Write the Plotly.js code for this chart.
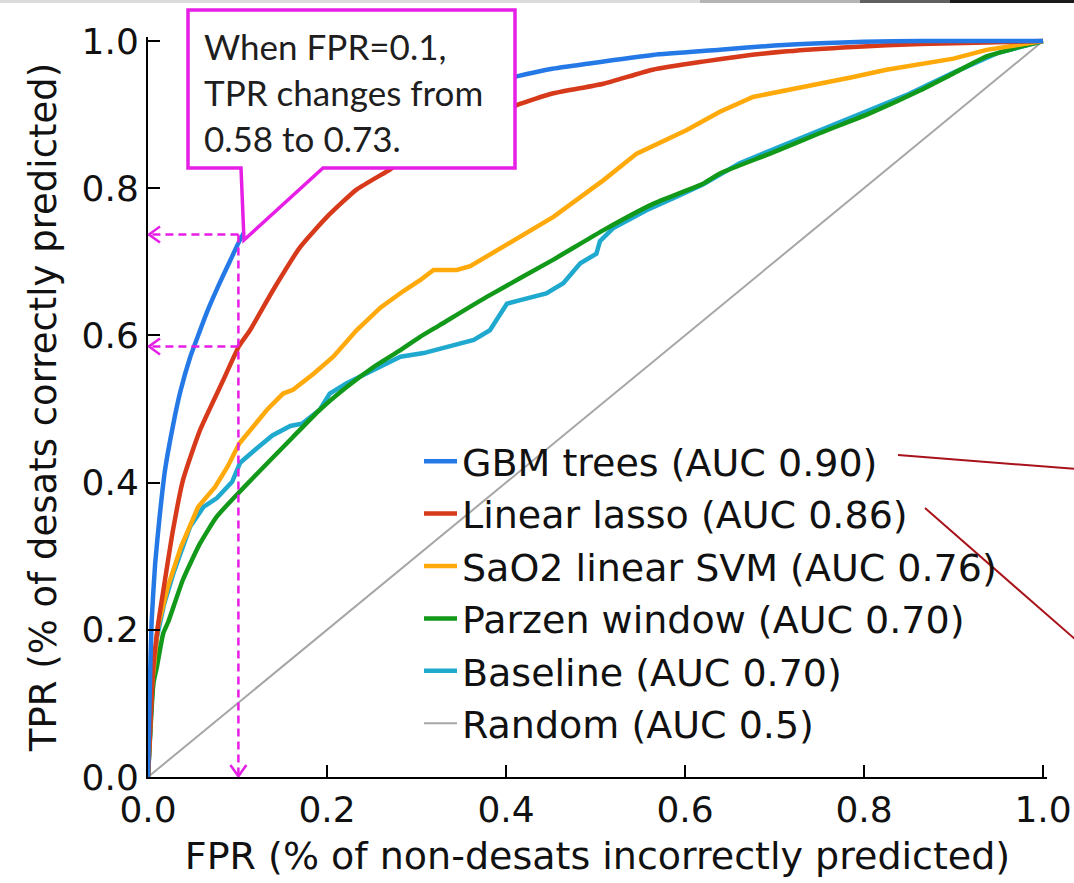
<!DOCTYPE html>
<html><head><meta charset="utf-8">
<script src="https://cdn.plot.ly/plotly-3.0.1.min.js"></script>
<style>html,body{margin:0;padding:0;background:#fff}#chart{width:1074px;height:883px}</style>
</head><body><div id="chart"></div>
<script>
// ---- data ----
const gbmFPR = [0,0.002,0.004,0.008,0.013,0.019,0.028,0.036,0.047,0.057,0.066,0.08,0.092,0.102,0.12,0.15,0.2,0.25,0.3,0.35,0.412,0.45,0.49,0.564,0.639,0.7,0.751,0.8,0.863,1.0];
const gbmTPR = [0,0.12,0.21,0.29,0.354,0.417,0.478,0.523,0.57,0.603,0.632,0.671,0.702,0.728,0.765,0.805,0.855,0.89,0.915,0.933,0.952,0.962,0.969,0.981,0.988,0.994,0.997,0.999,1.0,1.0];

const lassoFPR = [0,0.003,0.006,0.0115,0.019,0.028,0.039,0.058,0.084,0.102,0.114,0.14,0.17,0.2,0.233,0.27,0.3,0.35,0.412,0.453,0.509,0.564,0.62,0.661,0.714,0.788,0.863,0.937,1.0];
const lassoTPR = [0,0.08,0.15,0.209,0.268,0.336,0.403,0.471,0.539,0.586,0.607,0.662,0.72,0.761,0.798,0.825,0.848,0.88,0.913,0.929,0.942,0.961,0.972,0.979,0.986,0.992,0.996,0.998,1.0];

const svmFPR = [0,0.004,0.011,0.022,0.037,0.056,0.075,0.089,0.102,0.114,0.133,0.151,0.162,0.185,0.207,0.233,0.26,0.285,0.304,0.319,0.345,0.36,0.397,0.453,0.509,0.546,0.602,0.639,0.676,0.714,0.751,0.788,0.825,0.863,0.9,0.937,0.974,1.0];
const svmTPR = [0,0.12,0.204,0.258,0.313,0.367,0.394,0.422,0.453,0.471,0.499,0.521,0.526,0.548,0.571,0.607,0.638,0.66,0.675,0.689,0.689,0.694,0.721,0.761,0.811,0.847,0.879,0.904,0.924,0.933,0.942,0.951,0.961,0.969,0.976,0.988,0.995,1.0];

const parzenFPR = [0,0.003,0.006,0.01,0.017,0.023,0.039,0.058,0.077,0.102,0.133,0.162,0.192,0.222,0.252,0.282,0.304,0.326,0.378,0.453,0.509,0.565,0.62,0.639,0.695,0.751,0.807,0.863,0.9,0.937,0.974,1.0];
const parzenTPR = [0,0.07,0.127,0.15,0.195,0.212,0.268,0.317,0.354,0.387,0.426,0.462,0.499,0.53,0.557,0.58,0.598,0.614,0.652,0.703,0.743,0.779,0.806,0.82,0.847,0.875,0.902,0.933,0.956,0.979,0.992,1.0];

const baseFPR = [0,0.004,0.01,0.018,0.029,0.047,0.062,0.077,0.094,0.1,0.103,0.121,0.139,0.159,0.172,0.192,0.203,0.222,0.244,0.267,0.282,0.308,0.334,0.364,0.382,0.401,0.416,0.445,0.464,0.483,0.501,0.505,0.52,0.557,0.59,0.62,0.661,0.7,0.75,0.8,0.85,0.9,0.95,1.0];
const baseTPR = [0,0.1,0.19,0.235,0.279,0.34,0.367,0.379,0.401,0.42,0.427,0.446,0.464,0.477,0.48,0.499,0.521,0.535,0.548,0.562,0.571,0.576,0.585,0.594,0.607,0.643,0.648,0.657,0.671,0.698,0.711,0.728,0.746,0.77,0.788,0.805,0.834,0.853,0.879,0.903,0.928,0.957,0.984,1.0];

const randFPR = [0, 1];
const randTPR = [0, 1];

const seriesNames = ['GBM trees (AUC 0.90)','Linear lasso (AUC 0.86)','SaO2 linear SVM (AUC 0.76)','Parzen window (AUC 0.70)','Baseline (AUC 0.70)','Random (AUC 0.5)'];
const tickVals = [0,0.2,0.4,0.6,0.8,1.0];
const tickText = ['0.0','0.2','0.4','0.6','0.8','1.0'];
const markFPR = 0.101;
const markTPR = [0.585, 0.737];
const calloutLines = ['When FPR=0.1,','TPR changes from','0.58 to 0.73.'];

// ---- geometry helpers (pixel -> paper) ----
const L = 148, R = 27, T = 37, B = 106, W = 1074, H = 883;
const PW = W - L - R, PH = H - T - B;
const px = v => (v - L) / PW;
const py = v => (H - B - v) / PH;
const xMax = PW / 895, yMax = PH / 736;

const mag = '#e61ee6';
const font = 'DejaVu Sans, Verdana, sans-serif';

function tr(x, y, name, color, width, rank, smooth) {
  const line = {color: color, width: width};
  if (smooth) { line.shape = 'spline'; line.smoothing = 0.5; }
  return {x: x, y: y, name: name, type: 'scatter', mode: 'lines',
    line: line, legendrank: rank, legendgroup: 'g' + rank, hoverinfo: 'skip'};
}
const data = [
  tr(randFPR, randTPR, seriesNames[5], '#a6a6a6', 2, 6, false),
  tr(baseFPR, baseTPR, seriesNames[4], '#1fa9cf', 4.5, 5, false),
  tr(parzenFPR, parzenTPR, seriesNames[3], '#13991a', 4.5, 4, true),
  tr(svmFPR, svmTPR, seriesNames[2], '#ffa90a', 4.5, 3, false),
  tr(lassoFPR, lassoTPR, seriesNames[1], '#d7391b', 4.5, 2, true),
  tr(gbmFPR, gbmTPR, seriesNames[0], '#2479e6', 4.5, 1, true)
];

const shapes = [];
// dashed guide lines
shapes.push({type:'line', xref:'x', yref:'y', x0: markFPR, y0: markTPR[1], x1: markFPR, y1: 0, line:{color:mag, width:2.5, dash:'8px,5px'}, layer:'above'});
markTPR.forEach(v => shapes.push({type:'line', xref:'x', yref:'y', x0: markFPR, y0: v, x1: 0, y1: v, line:{color:mag, width:2.5, dash:'8px,5px'}, layer:'above'}));
// chevron arrow heads (open style)
const chevW = 12/895, chevH = 8/736;
markTPR.forEach(v => {
  shapes.push({type:'path', xref:'x', yref:'y', path:`M${chevW},${v+chevH} L0.001,${v} L${chevW},${v-chevH}`, line:{color:mag, width:2.5}, layer:'above'});
});
shapes.push({type:'path', xref:'x', yref:'y', path:`M${markFPR-8/895},${12/736} L${markFPR},0.001 L${markFPR+8/895},${12/736}`, line:{color:mag, width:2.5}, layer:'above'});
// callout box with pointer
const pts = [[188,10],[515,10],[515,168],[323,168],[244,240],[241,168],[188,168]];
shapes.push({type:'path', xref:'paper', yref:'paper',
  path: 'M' + pts.map(p => px(p[0]) + ',' + py(p[1])).join(' L') + ' Z',
  fillcolor:'#ffffff', line:{color:mag, width:3.5}, layer:'above'});
// dark red pointer lines on right
shapes.push({type:'line', xref:'paper', yref:'paper', x0:px(898), y0:py(455), x1:px(1076), y1:py(469), line:{color:'#a8121a', width:2}});
shapes.push({type:'line', xref:'paper', yref:'paper', x0:px(925), y0:py(508), x1:px(1076), y1:py(640), line:{color:'#a8121a', width:2}});
// thin screen bar at the top
[[0,700,'#dcdcdc'],[700,860,'#b4b4b4'],[860,950,'#606060'],[950,1076,'#1a1a1a']].forEach(s => {
  shapes.push({type:'rect', xref:'paper', yref:'paper', x0:px(s[0]), x1:px(s[1]), y0:py(0), y1:py(3), fillcolor:s[2], line:{width:0}, layer:'above'});
});

const annotations = calloutLines.map((t, i) => ({
  xref:'paper', yref:'paper', x: px(202), y: py(46 + i*46), xanchor:'left', yanchor:'middle',
  text: t, showarrow:false, font:{family:'Lato, Carlito, sans-serif', size:35, color:'#1e1e1e'}
}));

const axisCommon = {
  tickvals: tickVals, ticktext: tickText, ticks:'inside', ticklen:12, tickwidth:2, tickcolor:'#000',
  showline:true, linecolor:'#000', linewidth:2, showgrid:false, zeroline:false,
  tickfont:{family:font, size:36, color:'#111'}, fixedrange:true
};

const layout = {
  width: W, height: H, margin:{l:L, r:R, t:T, b:B, pad:0},
  paper_bgcolor:'#fff', plot_bgcolor:'#fff',
  font:{family:font, color:'#111'},
  xaxis: Object.assign({}, axisCommon, {range:[0, xMax],
    title:{text:'FPR (% of non-desats incorrectly predicted)', font:{family:font, size:38, color:'#111'}, standoff:13}}),
  yaxis: Object.assign({}, axisCommon, {range:[0, yMax],
    title:{text:'TPR (% of desats correctly predicted)', font:{family:font, size:37, color:'#111'}, standoff:14}}),
  showlegend:true,
  legend:{x: px(419), y: py(430), xanchor:'left', yanchor:'top', bgcolor:'rgba(0,0,0,0)', borderwidth:0,
    font:{family:font, size:38, color:'#111'}, traceorder:'grouped', tracegroupgap:0, itemwidth:33},
  shapes: shapes, annotations: annotations
};

Plotly.newPlot('chart', data, layout, {displayModeBar:false, staticPlot:true});
</script></body></html>
